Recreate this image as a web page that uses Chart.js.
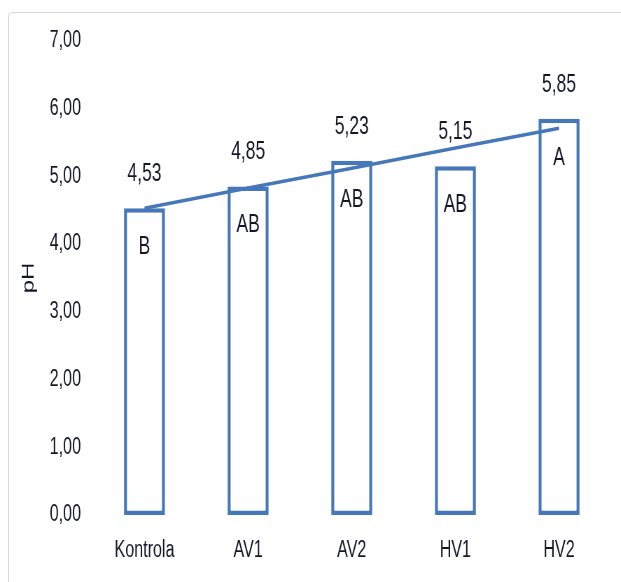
<!DOCTYPE html>
<html>
<head>
<meta charset="utf-8">
<script src="https://cdn.jsdelivr.net/npm/chart.js@4/dist/chart.umd.min.js"></script>
<style>
	html, body { margin: 0; padding: 0; background: #fff; overflow: hidden; }
	#page { position: relative; width: 621px; height: 582px; overflow: hidden; }
	#frame {
		position: absolute; left: 8px; top: 12px; width: 660px; height: 620px;
		border: 1px solid #d9d9d9; border-radius: 4px;
	}
	/* the original figure is squeezed sideways, so draw wide and squeeze */
	#wrap {
		position: absolute; left: 0; top: 0; width: 887px; height: 582px;
		transform: scaleX(0.7); transform-origin: 0 0;
	}
</style>
</head>
<body>
<div id="page">
	<div id="frame"></div>
	<div id="wrap">
		<canvas id="phChart" width="887" height="582"></canvas>
	</div>
</div>
<script>
// data
const categories = ['Kontrola', 'AV1', 'AV2', 'HV1', 'HV2'];
const phValues = [4.53, 4.85, 5.23, 5.15, 5.85];
const groupLetters = ['B', 'AB', 'AB', 'AB', 'A'];
const trendValues = [4.53, 4.83, 5.12, 5.42, 5.71];
const yTicks = [0, 1, 2, 3, 4, 5, 6, 7];

const blue = '#4677B8';
const textColor = '#16162a';
const fontFamily = '"Liberation Sans", Arial, sans-serif';

const fmt = v => Number(v).toFixed(2).replace('.', ',');

// value above each bar, letter inside it
const barLabels = {
	id: 'barLabels',
	afterDatasetsDraw (chart) {
		const ctx = chart.ctx;
		const meta = chart.getDatasetMeta(0);
		ctx.save();
		ctx.font = '25px ' + fontFamily;
		ctx.fillStyle = textColor;
		ctx.textAlign = 'center';
		ctx.textBaseline = 'middle';
		meta.data.forEach((bar, i) => {
			ctx.fillText(fmt(phValues[i]), bar.x, bar.y - 34);
			ctx.fillText(groupLetters[i], bar.x, bar.y + 39);
		});
		ctx.restore();
	}
};

Chart.defaults.font.family = fontFamily;
Chart.defaults.color = textColor;

const ctx = document.getElementById('phChart').getContext('2d');
new Chart(ctx, {
	data: {
		labels: categories,
		datasets: [
			{
				type: 'bar',
				data: phValues,
				backgroundColor: '#ffffff',
				borderColor: blue,
				borderWidth: 4.5,
				borderSkipped: false,
				categoryPercentage: 1,
				barPercentage: 0.396,
				order: 1
			},
			{
				type: 'line',
				data: trendValues,
				borderColor: blue,
				borderWidth: 3.5,
				pointRadius: 0,
				tension: 0,
				order: 0
			}
		]
	},
	options: {
		responsive: false,
		animation: false,
		layout: { padding: { left: 10, right: 14.4, top: 41, bottom: 0 } },
		plugins: {
			legend: { display: false },
			tooltip: { enabled: false }
		},
		scales: {
			x: {
				grid: { display: false, drawTicks: false },
				border: { display: false },
				ticks: { font: { size: 23 }, padding: 22, color: textColor },
				afterFit: scale => { scale.height = 67; }
			},
			y: {
				min: 0,
				max: 7,
				afterBuildTicks: scale => { scale.ticks = yTicks.map(v => ({ value: v })); },
				grid: { display: false, drawTicks: false },
				border: { display: false },
				ticks: { font: { size: 23 }, padding: 16.7, color: textColor, callback: v => fmt(v) },
				title: {
					display: true,
					text: 'pH',
					font: { size: 24 },
					color: textColor,
					padding: { top: 17, bottom: 0 }
				},
				afterFit: scale => { scale.width = 122.4; }
			}
		}
	},
	plugins: [barLabels]
});
</script>
</body>
</html>
